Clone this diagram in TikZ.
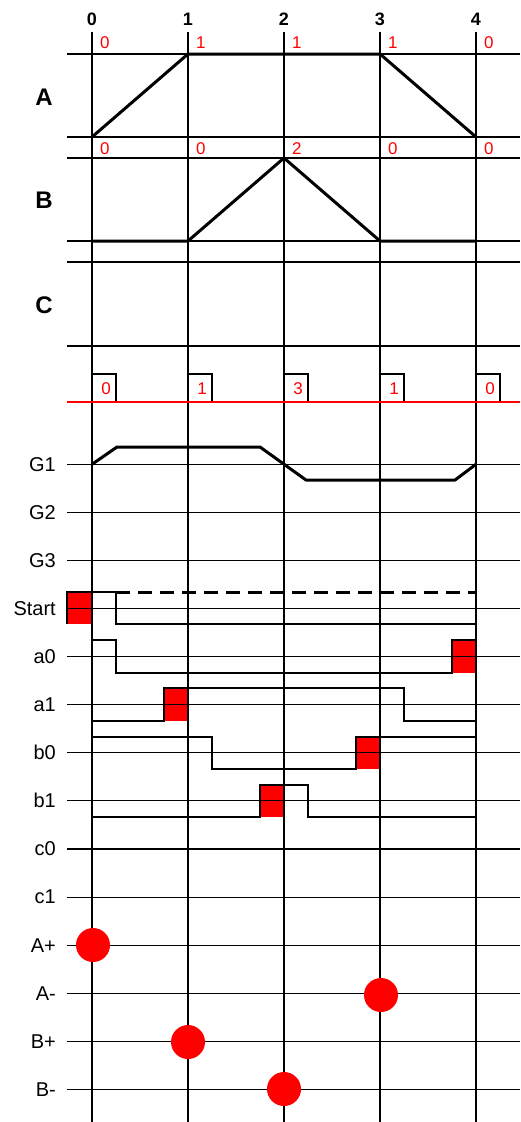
\documentclass[tikz,border=0pt]{standalone}
\usepackage{fontspec}
\setmainfont{Liberation Sans}
\begin{document}
\begin{tikzpicture}[x=1pt,y=-1pt,
 grid/.style={line width=1.3pt, black},
 wave/.style={line width=3pt, line join=round},
 sig/.style={line width=1.3pt, line join=miter},
 rowlabel/.style={anchor=east, inner sep=0pt, font=\fontsize{20}{20}\selectfont},
 biglabel/.style={inner sep=0pt, font=\fontsize{24}{24}\selectfont\bfseries},
 colnum/.style={inner sep=0pt, font=\fontsize{18}{18}\selectfont\bfseries},
 val/.style={anchor=west, inner sep=0pt, text=red, font=\fontsize{17}{17}\selectfont},
 cval/.style={inner sep=0pt, text=red, font=\fontsize{17}{17}\selectfont},
 dot/.style={circle, fill=red, minimum size=34pt, inner sep=0pt},
]
\useasboundingbox (0,0) rectangle (520,1122);

% red fills of step boxes (under lines)
\fill[red] (67,592) rectangle (92,624);
\fill[red] (452,640) rectangle (476,673);
\fill[red] (164,688) rectangle (188,721);
\fill[red] (356,737) rectangle (380,769);
\fill[red] (260,785) rectangle (284,817);

% column numbers and vertical lines
\foreach \i/\x in {0/92,1/188,2/284,3/380,4/476} {
  \node[colnum] (col\i) at (\x,19) {\i};
  \draw[grid] (\x,32) -- (\x,1122);
}

% horizontal lines of A, B, C
\foreach \y in {54,137,158,241,262,346} {
  \draw[grid] (67,\y) -- (520,\y);
}
\node[biglabel] (labA) at (44,97) {A};
\node[biglabel] (labB) at (44,200) {B};
\node[biglabel] (labC) at (44,305) {C};

% red values
\foreach \x/\v [count=\k] in {92/0,188/1,284/1,380/1,476/0} {
  \node[val] (at\k) at ({\x+8},43) {\v};
}
\foreach \x/\v [count=\k] in {92/0,188/0,284/2,380/0,476/0} {
  \node[val] (bt\k) at ({\x+8},149) {\v};
}

% red line and C boxes
\draw[red, line width=2.6pt] (67,402) -- (520,402);
\foreach \x/\v [count=\k] in {92/0,188/1,284/3,380/1,476/0} {
  \draw[line width=1.3pt] (\x,374) -- ({\x+24},374) -- ({\x+24},401);
  \node[cval] (cv\k) at ({\x+14},389) {\v};
}

% waves
\draw[wave] (92,137) -- (188,54) -- (380,54) -- (476,137);
\draw[wave] (92,241) -- (188,241) -- (284,158) -- (380,241) -- (476,241);

% row lines and labels
\foreach \n/\y [count=\k] in {G1/464.3,G2/512.4,G3/560.5,Start/608.4,a0/656.7,a1/704.5,b0/752.8,b1/800.8,c0/849,c1/897.2,A+/945.3,A-/993.4,B+/1041.4,B-/1089.4} {
  \draw[grid] (67,\y) -- (520,\y);
  \node[rowlabel] (row\k) at (56,\y) {\n};
}

% G1 curve
\draw[wave] (92,464.3) -- (117,447) -- (260,447) -- (306,480) -- (455,480) -- (476,464.3);

% step signals
\draw[sig] (67,624) -- (67,592) -- (116,592) -- (116,624) -- (476,624);
\draw[line width=3pt, dash pattern=on 14pt off 8pt] (116,592) -- (476,592);
\draw[sig] (92,640) -- (116,640) -- (116,673) -- (452,673) -- (452,640) -- (476,640);
\draw[sig] (92,721) -- (164,721) -- (164,688) -- (404,688) -- (404,721) -- (476,721);
\draw[sig] (92,737) -- (212,737) -- (212,769) -- (356,769) -- (356,737) -- (476,737);
\draw[sig] (92,817) -- (260,817) -- (260,785) -- (308,785) -- (308,817) -- (476,817);

% red dots
\node[dot] (dApl) at (93,945) {};
\node[dot] (dAmi) at (381,995) {};
\node[dot] (dBpl) at (188,1042) {};
\node[dot] (dBmi) at (284,1089) {};
\end{tikzpicture}
\end{document}
